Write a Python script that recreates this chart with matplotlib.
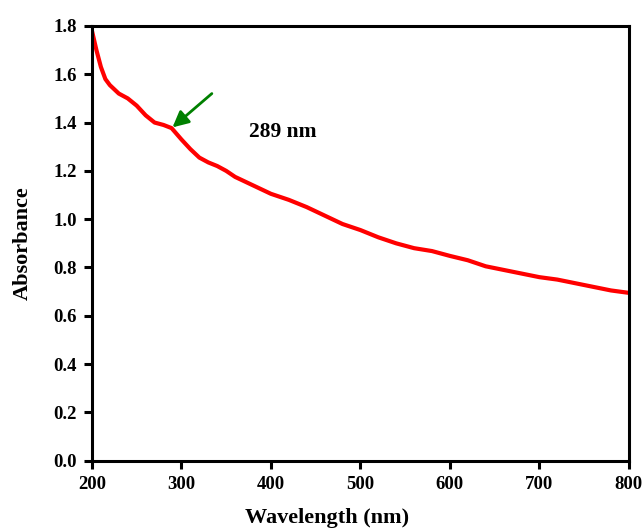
import matplotlib.pyplot as plt

# UV-Vis absorbance spectrum
wavelength = [200, 205, 210, 215, 220, 230, 240, 250, 260, 270, 280, 289,
              300, 310, 320, 330, 340, 350, 360, 380, 400, 420, 440, 460,
              480, 500, 520, 540, 560, 580, 600, 620, 640, 660, 680, 700,
              720, 740, 760, 780, 800]
absorbance = [1.78, 1.70, 1.63, 1.58, 1.555, 1.52, 1.50, 1.47, 1.43, 1.40,
              1.39, 1.377, 1.33, 1.29, 1.255, 1.235, 1.22, 1.20, 1.175, 1.14,
              1.105, 1.08, 1.05, 1.015, 0.98, 0.955, 0.925, 0.90, 0.88,
              0.868, 0.848, 0.83, 0.805, 0.79, 0.775, 0.76, 0.75, 0.735,
              0.72, 0.705, 0.695]
peak_label = "289 nm"
x_ticks = [200, 300, 400, 500, 600, 700, 800]
y_ticks = [0.0, 0.2, 0.4, 0.6, 0.8, 1.0, 1.2, 1.4, 1.6, 1.8]

plt.rcParams['font.family'] = ['Liberation Serif', 'DejaVu Serif']
plt.rcParams['font.weight'] = 'bold'

fig, ax = plt.subplots(figsize=(6.43, 5.29), dpi=100)
fig.subplots_adjust(left=0.143, right=0.978, top=0.951, bottom=0.129)

ax.plot(wavelength, absorbance, color='red', linewidth=3)

ax.annotate("", xy=(290, 1.38), xytext=(334, 1.52),
            arrowprops=dict(arrowstyle='-|>', color='green', lw=2,
                            mutation_scale=24, shrinkA=0, shrinkB=0))
ax.text(376, 1.36, peak_label, fontsize=15.5, fontweight='bold', va='center')

ax.set_xlim(200, 800)
ax.set_ylim(0, 1.8)
ax.set_xticks(x_ticks)
ax.set_yticks(y_ticks)
ax.set_yticklabels([f"{v:.1f}" for v in y_ticks])
ax.tick_params(direction='out', length=6, width=2.2, labelsize=13.5, pad=5)
for side in ax.spines.values():
    side.set_linewidth(2.2)

ax.set_xlabel("Wavelength (nm)", fontsize=16, fontweight='bold', labelpad=11)
ax.xaxis.label.set_x(0.437)
ax.set_ylabel("Absorbance", fontsize=16, fontweight='bold', labelpad=15)

fig.savefig("out.png", dpi=100)
